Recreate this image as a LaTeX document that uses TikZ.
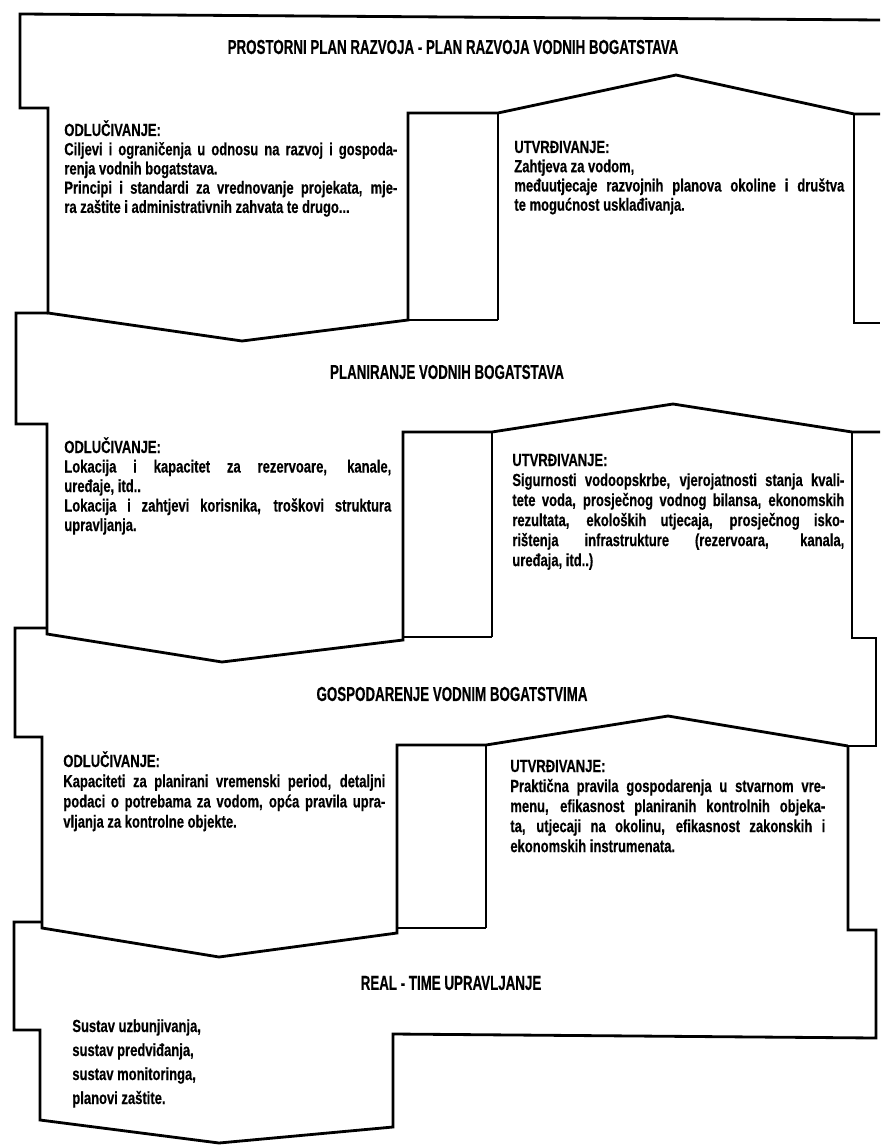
\documentclass[tikz,border=0pt]{standalone}
\usepackage{fontspec}
\setmainfont{Liberation Sans}[FakeStretch=0.74,FakeBold=0.4]
\newfontfamily\ttlfont{Liberation Sans}[FakeStretch=0.66,FakeBold=0.4]
\newcommand\jl[1]{\hbox to \hsize{#1}}
\newcommand\blk[3]{\parbox[t]{#1}{\baselineskip=#2\lineskiplimit=-30pt\lineskip=0pt #3}}
\begin{document}
\begin{tikzpicture}[x=0.02cm,y=-0.02cm,
  outline/.style={draw=black,line width=1.6pt,line join=miter},
  bandtitle/.style={inner sep=0pt,anchor=center,font=\ttlfont\bfseries\fontsize{11.5}{13}\selectfont},
  bodytext/.style={inner sep=0pt,anchor=base west,font=\bfseries\fontsize{10}{12}\selectfont}]
\fill[white] (0,0) rectangle (880,1145);
\useasboundingbox (0,0) rectangle (880,1145);

% ---- band 1 with decision box 1, middle box 1, determination box 1
\draw[outline] (880,20) -- (20,14) -- (20,108) -- (48,108) -- (48,313) -- (242,341) -- (408,320) -- (408,113) -- (498,113) -- (676,75) -- (854,114) -- (880,114);
\draw[outline] (408,320) -- (498,320);
\draw[outline] (498,113) -- (498,320);
\draw[outline] (854,114) -- (854,323) -- (880,323);

% ---- band 2
\draw[outline] (48,313) -- (16,313) -- (16,424) -- (47,424) -- (47,634) -- (222,662) -- (403,640) -- (403,432) -- (492,432) -- (673,404) -- (852,432) -- (880,432);
\draw[outline] (403,637) -- (492,637);
\draw[outline] (492,432) -- (492,637);
\draw[outline] (852,432) -- (852,638) -- (876,638) -- (876,746) -- (848,746);

% ---- band 3
\draw[outline] (47,628) -- (15,628) -- (15,737) -- (42,737) -- (42,928) -- (219,957) -- (397,933) -- (397,745) -- (486,745) -- (668,716) -- (848,746);
\draw[outline] (397,928) -- (486,928);
\draw[outline] (486,745) -- (486,928);
\draw[outline] (848,746) -- (848,930) -- (876,930) -- (876,1038) -- (393,1034) -- (393,1127) -- (219,1143) -- (40,1120) -- (40,1030) -- (14,1030) -- (14,922) -- (42,922);

% ---- titles
\node[bandtitle] (t1) at (453,47) {PROSTORNI PLAN RAZVOJA - PLAN RAZVOJA VODNIH BOGATSTAVA};
\node[bandtitle] (t2) at (447,372) {PLANIRANJE VODNIH BOGATSTAVA};
\node[bandtitle] (t3) at (452,694) {GOSPODARENJE VODNIM BOGATSTVIMA};
\node[bandtitle] (t4) at (451,983) {REAL - TIME UPRAVLJANJE};

% ---- texts
\node[bodytext] (l1) at (64,136) {\blk{6.66cm}{10.95pt}{%
\hbox{ODLUČIVANJE:}
\jl{Ciljevi i ograničenja u odnosu na razvoj i gospoda-}
\hbox{renja vodnih bogatstava.}
\jl{Principi i standardi za vrednovanje projekata, mje-}
\hbox{ra zaštite i administrativnih zahvata te drugo...}}};

\node[bodytext] (r1) at (514,153) {\blk{6.6cm}{10.95pt}{%
\hbox{UTVRĐIVANJE:}
\hbox{Zahtjeva za vodom,}
\jl{međuutjecaje razvojnih planova okoline i društva}
\hbox{te mogućnost usklađivanja.}}};

\node[bodytext] (l2) at (64,453) {\blk{6.54cm}{11.1pt}{%
\hbox{ODLUČIVANJE:}
\jl{Lokacija i kapacitet za rezervoare, kanale,}
\hbox{uređaje, itd..}
\jl{Lokacija i zahtjevi korisnika, troškovi struktura}
\hbox{upravljanja.}}};

\node[bodytext] (r2) at (512,466) {\blk{6.64cm}{11.4pt}{%
\hbox{UTVRĐIVANJE:}
\jl{Sigurnosti vodoopskrbe, vjerojatnosti stanja kvali-}
\jl{tete voda, prosječnog vodnog bilansa, ekonomskih}
\jl{rezultata, ekoloških utjecaja, prosječnog isko-}
\jl{rištenja infrastrukture (rezervoara, kanala,}
\hbox{uređaja, itd..)}}};

\node[bodytext] (l3) at (63,767) {\blk{6.44cm}{11.5pt}{%
\hbox{ODLUČIVANJE:}
\jl{Kapaciteti za planirani vremenski period, detaljni}
\jl{podaci o potrebama za vodom, opća pravila upra-}
\hbox{vljanja za kontrolne objekte.}}};

\node[bodytext] (r3) at (510,772) {\blk{6.3cm}{11.4pt}{%
\hbox{UTVRĐIVANJE:}
\jl{Praktična pravila gospodarenja u stvarnom vre-}
\jl{menu, efikasnost planiranih kontrolnih objeka-}
\jl{ta, utjecaji na okolinu, efikasnost zakonskih i}
\hbox{ekonomskih instrumenata.}}};

\node[bodytext] (l4) at (72,1032) {\blk{4cm}{13.66pt}{%
\hbox{Sustav uzbunjivanja,}
\hbox{sustav predviđanja,}
\hbox{sustav monitoringa,}
\hbox{planovi zaštite.}}};
\end{tikzpicture}
\end{document}
